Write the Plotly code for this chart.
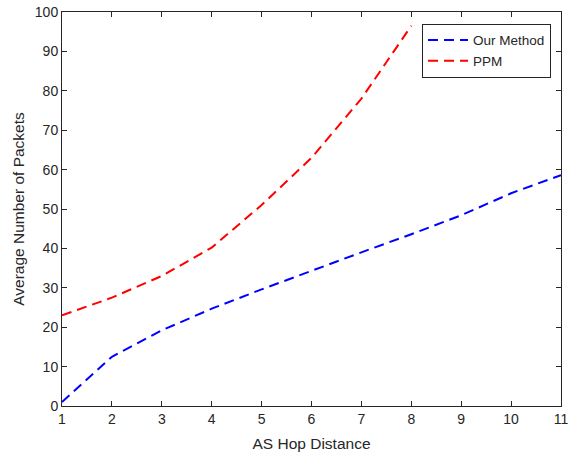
import plotly.graph_objects as go

hops = [1, 2, 3, 4, 5, 6, 7, 8, 9, 10, 11]
our_method = [1.0, 12.5, 19.2, 24.7, 29.6, 34.4, 39.0, 43.6, 48.4, 54.0, 58.6]
ppm_hops = [1, 2, 3, 4, 5, 6, 7, 8]
ppm = [23.0, 27.5, 33.0, 40.2, 51.0, 63.0, 78.0, 96.5]

axis_color = "#262626"
font_family = "Liberation Sans, Arial, sans-serif"
dash_pattern = "10px,6px"

fig = go.Figure()
fig.add_trace(go.Scatter(x=hops, y=our_method, mode="lines", name="Our Method",
                         line=dict(color="#0000FF", width=2, dash=dash_pattern)))
fig.add_trace(go.Scatter(x=ppm_hops, y=ppm, mode="lines", name="PPM",
                         line=dict(color="#FF0000", width=2, dash=dash_pattern)))

fig.update_layout(
    width=569, height=456,
    margin=dict(l=62, r=8, t=12, b=50),
    paper_bgcolor="white", plot_bgcolor="white",
    font=dict(family=font_family, size=14, color=axis_color),
    showlegend=True,
    legend=dict(x=0.98, y=0.97, xanchor="right", yanchor="top",
                bgcolor="white", bordercolor=axis_color, borderwidth=1,
                font=dict(size=13.5), tracegroupgap=0, itemwidth=40),
)
fig.update_xaxes(range=[1, 11], tickmode="array", tickvals=hops,
                 ticks="inside", ticklen=5, tickcolor=axis_color, automargin=False,
                 showline=True, linecolor=axis_color, linewidth=1, mirror="ticks",
                 showgrid=False, zeroline=False,
                 title=dict(text="AS Hop Distance", font=dict(size=15.5), standoff=12))
fig.update_yaxes(range=[0, 100], tickmode="array", tickvals=list(range(0, 101, 10)),
                 ticks="inside", ticklen=5, tickcolor=axis_color, automargin=False,
                 showline=True, linecolor=axis_color, linewidth=1, mirror="ticks",
                 showgrid=False, zeroline=False,
                 title=dict(text="Average Number of Packets", font=dict(size=15.5), standoff=6))

fig.write_html("out.html")
